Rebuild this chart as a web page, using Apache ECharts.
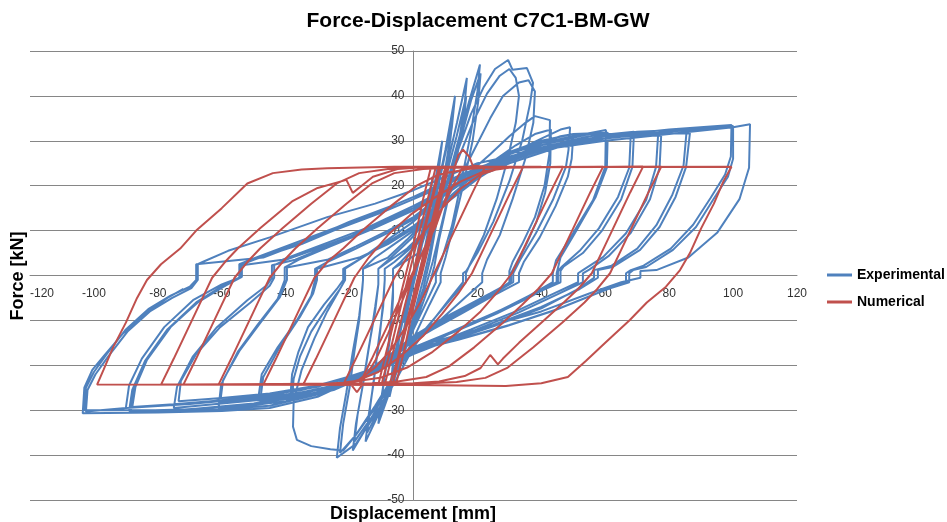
<!DOCTYPE html>
<html><head><meta charset="utf-8">
<script src="https://cdn.jsdelivr.net/npm/echarts@6/dist/echarts.min.js"></script>
<style>html,body{margin:0;padding:0;background:#fff}#c{width:947px;height:522px}</style>
</head><body><div id="c"></div>
<script>
// axis ticks
const xTicks = [-120,-100,-80,-60,-40,-20,0,20,40,60,80,100,120];
const yTicks = [-50,-40,-30,-20,-10,0,10,20,30,40,50];

// Experimental (blue) cycles, [displacement mm, force kN]
const exp1 = [[0,0],[1.5,6],[3,11],[2,7],[0,0],[-1.5,-6],[-3,-10.5],[-2,-6],[0,-1]];
const exp2 = [[2,6],[4,14],[6,22],[5,16],[3,8],[1,1],[-1,-5],[-3,-12],[-5.5,-20],[-4.5,-14],[-2.5,-7],[0,-1]];
const exp3 = [[2,5],[4,11],[6.5,20],[9,30],[8,24],[6,15],[3.5,6],[1.5,-1],[-1,-8],[-4,-16],[-7.5,-27],[-6.5,-20],[-4,-12],[-1.5,-4]];
const exp3b = [[1,3],[3.5,10],[6,18],[8.5,27],[7.5,21],[5.5,13],[3,4],[1,-2],[-1.5,-9],[-4.5,-17],[-7,-24],[-6,-18],[-3.5,-10],[-1,-2]];
const exp4 = [[1,3],[4,10],[7,18],[10,28],[13,40],[12,33],[10,24],[7,13],[5,5],[3,-1],[0,-9],[-3,-17],[-7,-25],[-11,-33],[-10,-27],[-8.5,-20],[-7,-12],[-6.4,-5],[-6.4,-1],[-6.4,1.5]];
const exp4b = [[-3,3],[1.5,5],[4.5,11],[7.5,19],[10.5,29],[12.5,37],[11.5,30],[9.5,21],[7,11],[5,3],[3,-3],[0,-10],[-3.5,-18],[-7.5,-26],[-10.5,-31],[-9.5,-25],[-8,-17],[-7,-9],[-6.4,-3],[-6.4,1.5]];
const exp5 = [[-4,3],[0,6],[4,10],[7,15],[10,23],[13.6,34],[16.7,44],[16,38],[14,29],[11,18],[8,9],[6,3],[4,-2],[1,-9],[-3,-17],[-7,-24],[-11,-31],[-15,-37],[-14,-31],[-12.5,-24],[-11,-15],[-9.5,-7],[-9,-1],[-9,1.5]];
const exp5b = [[-6,3],[-2,5.5],[3,9],[7,15],[10.5,23],[13.5,31],[16.5,40],[15.8,35],[13.5,26],[10.5,16],[8,8],[6.5,2],[5,-2],[2,-8],[-2,-15],[-6,-22],[-10,-29],[-14.5,-35],[-13.5,-29],[-12,-21],[-10.5,-13],[-9.5,-6],[-9,-1],[-9,1.5]];
const exp6 = [[-6,3],[-1,6],[3,9],[7,14],[11,22],[14,30],[17.5,39],[20.8,47],[20,41],[18,32],[15,21],[12,11],[9,4],[7,0.5],[7,-1.5],[4,-6],[0,-12],[-4,-19],[-9,-26],[-14,-33],[-19,-39],[-18,-33],[-16,-25],[-14,-16],[-12,-8],[-11,-2],[-11,1.5]];
const exp6b = [[-7,3.5],[-2,6],[3,9.5],[8,15],[12,23],[15,31],[18,39],[21,45],[20.3,39],[18.5,30],[15.5,20],[12.5,11],[10,4],[8.5,0.5],[8.5,-1.5],[5,-6.5],[1,-12.5],[-3,-18.5],[-8,-25],[-13,-31.5],[-18.5,-37],[-17.5,-31],[-15.5,-23],[-13.5,-14],[-12,-7],[-11,-2],[-11,1.5]];
const exp7 = [[-7,4],[-1,8],[5,13],[10,20],[14,28],[18,36],[22,42],[25.5,46],[29.6,48],[31,45.8],[35.5,46.2],[37.4,42.9],[36.5,38.4],[34,30],[30,21],[25,12],[20,5],[16.5,1],[15.5,0.5],[15.5,-1.5],[11,-5.5],[5,-11],[0,-16],[-6,-24],[-12,-31],[-18,-37.5],[-24,-40.6],[-23,-34],[-21,-26],[-19,-17],[-17,-9],[-16,-3],[-15.8,-1],[-15.8,1.5]];
const exp7b = [[-8,4],[-2,8],[4,12.5],[9,18.5],[14,26],[18.5,34],[23,40.5],[27,44.5],[30,46],[32,44],[33,40],[32,34],[29.5,26],[26,17],[22,9],[18,3],[16.4,0.5],[16.4,-1.5],[12,-5],[6,-10],[0,-15],[-6,-22.5],[-12,-29.5],[-18,-35.5],[-23,-39.5],[-22,-33],[-20,-25],[-18.5,-17],[-17,-10],[-16.2,-4],[-15.8,-1],[-15.8,1.5]];
const exp8 = [[-12,4],[-5,7.5],[2,11],[8,15],[14,21],[19,28],[24,35],[28,40],[33,43],[36,43.5],[38,41],[37.5,34],[35,26],[31,17],[27,9],[23,3.5],[21.5,0.5],[21.5,-1.5],[16,-5],[9,-9.5],[2,-14],[-5,-21],[-12,-29],[-18,-35.5],[-22,-39],[-26,-38.7],[-32,-38],[-36.5,-36.6],[-37.7,-33.7],[-37.5,-28],[-35,-21],[-31,-14],[-27,-8],[-23,-3],[-21.4,-1],[-21.4,1.5]];
const exp9 = [[-15,4.5],[-8,8],[0,12],[8,17],[16,22],[24,27],[30,31],[35,34],[38,35.5],[42.7,34.6],[42.5,27],[41,20],[38,13],[34,7],[31,3],[30,1],[30,-1.5],[24,-4.5],[16,-7.5],[8,-10.5],[0,-14],[-8,-18.5],[-16,-22.5],[-25,-25],[-32,-26.5],[-38,-27.5],[-37.5,-23],[-35.5,-18],[-32,-12.5],[-27,-7],[-23,-3],[-21.4,-1],[-21.4,1.5]];
const exp9b = [[-16,4],[-9,7],[0,10.5],[8,15.5],[16,20.5],[24,25],[32,29],[38,31.5],[43,32.5],[42.8,25],[41.2,18.5],[38.5,12],[35,6.5],[32,2.5],[30.5,0.5],[30.5,-1.5],[24,-4],[16,-7],[8,-10],[0,-13.5],[-8,-18],[-16,-22],[-25,-24.5],[-32,-25.8],[-38.5,-26.8],[-38,-22],[-36,-17],[-33,-11.5],[-28,-6.5],[-24,-3],[-22,-1],[-22,1.5]];
const exp10 = [[-16,4],[-8,7.5],[0,11],[10,16.5],[20,22],[30,27],[40,30.5],[46,32.5],[49,33],[48.5,28],[47.7,24.2],[43.6,16.8],[38.3,9.4],[33.3,3.4],[31.2,0.5],[31.2,-1.5],[24,-4.5],[15,-8],[6,-11.5],[0,-14],[-10,-20],[-20,-24],[-30,-26.5],[-40,-27.5],[-48,-28],[-47,-22.6],[-41.8,-15.9],[-35.5,-9.2],[-31.4,-4],[-30.2,-1],[-30.2,1.5]];
const exp10b = [[-17,4],[-8,7],[0,10.5],[10,16],[20,21.5],[30,26],[40,29.5],[46,31],[50,31.5],[49.5,26],[48.3,22],[44.5,15.5],[39.5,8.5],[34.5,3],[33,0.5],[33,-1.5],[25,-4.5],[15,-8.5],[6,-12],[0,-14.5],[-10,-20.5],[-20,-23.5],[-30,-25.5],[-40,-26.5],[-48.5,-27],[-47.5,-22],[-42.5,-16],[-36.5,-10],[-32,-4.5],[-30.8,-1],[-30.8,1.5]];
const exp11 = [[-27,3],[-18,6],[-8,9.5],[0,12.5],[10,18],[20,23],[30,27],[40,29.5],[50,31],[60.2,32.4],[60,24.2],[56.2,16.8],[49.9,9.4],[44.6,3.4],[43.6,0.5],[43.6,-1.5],[35,-5],[25,-8.5],[12,-12.5],[0,-16],[-12,-21],[-25,-24.5],[-40,-26.8],[-52,-27.8],[-60.5,-28.4],[-59.6,-23.3],[-54.3,-16.6],[-48,-10.6],[-41.8,-4.8],[-39.6,-1],[-39.6,1.8]];
const exp11b = [[-27,3.5],[-18,6.5],[-8,10],[0,13],[10,18.5],[20,23.5],[30,27.5],[40,30],[50,31.5],[60.8,31.8],[60.5,24],[57,17.5],[51,10],[46,4],[44.8,0.5],[44.8,-1.5],[36,-5],[26,-8.5],[13,-12.5],[0,-16.2],[-12,-21.5],[-25,-25.5],[-40,-28],[-52,-29],[-61,-29.5],[-60.2,-24.3],[-55,-17],[-48.8,-11],[-42.5,-5.2],[-40.3,-1],[-40.3,1.8]];
const exp12 = [[-36,3.5],[-26,6.5],[-14,10],[0,14.5],[12,19.5],[25,24.5],[40,28.5],[55,31],[69,32],[68.5,24.2],[65,17],[59,10],[53,5],[47,2],[46,1],[46,-1.5],[38,-4],[28,-7.5],[15,-11.5],[0,-16.5],[-15,-22],[-30,-25.5],[-45,-27.5],[-60,-28.5],[-75,-29.5],[-74,-24.8],[-69,-18],[-61.5,-11.5],[-52,-5.5],[-45.8,-2.1],[-44.3,-0.5],[-44.3,2.3]];
const exp12b = [[-37,3.5],[-27,6.5],[-14,10.5],[0,15],[12,20],[25,25],[40,29],[55,31.5],[68,31.5],[67.5,24],[64,17.5],[58,10.5],[52,5.5],[46.5,2],[45.2,1],[45.2,-1.5],[37,-4.2],[27,-7.8],[14,-12],[0,-17],[-15,-21.5],[-30,-24.5],[-45,-26.3],[-60,-27.3],[-73.5,-28],[-72.8,-23.5],[-68,-17.5],[-60.5,-11.5],[-51,-6],[-45,-2.3],[-43.6,-0.5],[-43.6,2.3]];
const exp13 = [[-40,3.5],[-30,6],[-15,10],[0,15],[15,20.5],[30,25],[45,28.5],[60,30.5],[76.6,32],[75.9,24.2],[72.8,16.8],[66.5,9.4],[59.3,4.1],[53,1.2],[51.5,0.5],[51.5,-1.5],[44,-4],[32,-8],[18,-12],[0,-17],[-18,-22.5],[-35,-25.5],[-55,-27.5],[-75,-28.7],[-88,-29.3],[-87,-24.8],[-83.4,-18.8],[-76,-11.5],[-66.8,-5.5],[-58.4,-2.1],[-53.7,-0.3],[-53.7,2.3]];
const exp13b = [[-41,3.5],[-30,6.5],[-15,10.5],[0,15.5],[15,21],[30,25.5],[45,29],[60,31],[77.5,31.2],[77,24],[74,17],[68,9.5],[61,4.3],[55,1.3],[53,0.5],[53,-1.5],[45,-4.2],[33,-8.2],[18,-12.5],[0,-17.5],[-18,-23.5],[-35,-27],[-55,-29],[-75,-30],[-88.5,-30.3],[-87.5,-25.5],[-84,-19],[-77,-12],[-67.5,-6],[-59,-2.3],[-54.2,-0.3],[-54.2,2.3]];
const exp14 = [[-50,3.5],[-40,6],[-25,10],[-10,14],[0,17],[15,22],[30,26],[50,29.5],[70,31.5],[86.5,31.7],[85.3,24.2],[82,17.5],[77,10.8],[70.9,5.7],[62.4,1.9],[57.7,1.2],[57.7,-0.5],[52,-3],[40,-7],[25,-11],[10,-14.5],[0,-17],[-15,-21.5],[-30,-24.5],[-50,-27],[-70,-28.5],[-90,-29.5],[-89,-24.5],[-85,-18.5],[-78,-11.5],[-69,-5.5],[-60,-2],[-54.5,-0.5],[-54.5,2.5]];
const exp14b = [[-50,3.8],[-40,6.5],[-25,10.5],[-10,14.5],[0,17.5],[15,22.5],[30,26.5],[50,30],[70,32],[85.5,32.5],[84.5,24.5],[81,18],[76,11.2],[70,6],[62,2.2],[56.5,1.2],[56.5,-0.5],[51,-3.2],[40,-7.3],[25,-11.3],[10,-14.8],[0,-17.3],[-15,-22.5],[-30,-26],[-50,-28.5],[-70,-29.8],[-89,-30.2],[-88,-25.5],[-84,-19],[-77,-12],[-68,-6],[-59.5,-2.2],[-54.5,-0.5],[-54.5,2.5]];
const exp15 = [[-48,4],[-35,7],[-20,11.5],[-5,15.5],[5,18.5],[20,23.5],[40,28],[60,30.5],[80,32],[100,33.3],[100,26],[98.4,22],[93.7,16.8],[88.4,10.8],[81.2,5.7],[72.8,1.9],[68.7,1.2],[67.5,0.5],[67.5,-1.5],[60,-3.2],[45,-7.5],[30,-11],[15,-14],[0,-16.5],[-15,-21.5],[-30,-26.5],[-45,-29],[-60,-29.8],[-80,-30],[-103,-30],[-102.5,-25],[-100,-21.5],[-96,-17.5],[-90,-12],[-83,-7.5],[-76,-4.5],[-70,-2.5],[-68,-1],[-68,2.5]];
const exp15b = [[-47,4],[-35,7.3],[-20,12],[-5,16],[5,19],[20,24],[40,28.5],[60,31],[80,32.5],[99.5,33.5],[99.3,26.5],[97.5,22.5],[93,17.3],[87.5,11.3],[80.5,6],[72,2.2],[68,1.2],[66.5,0.5],[66.5,-1.5],[59,-3.5],[44,-7.8],[29,-11.3],[14,-14.3],[0,-16.8],[-15,-21.3],[-30,-24.8],[-50,-27.3],[-70,-28.6],[-90,-29.5],[-102.5,-30.3],[-102,-25.5],[-99.5,-22],[-95.5,-18],[-89.5,-12.5],[-82.5,-8],[-75.5,-5],[-69.5,-2.8],[-67.5,-1],[-67.5,2.5]];
const exp16 = [[-66,3],[-58,5.5],[-45,8.5],[-27,13],[-12,16],[0,19],[10,22],[20,25],[40,28],[60,30],[80,31.5],[100,33],[105.3,33.7],[105,24],[102,17],[95,9.5],[86,4],[76,1.2],[71,1],[71,-0.5],[65,-1.5],[55,-4],[40,-8],[20,-12],[0,-16],[-15,-22],[-30,-27],[-45,-29.5],[-60,-30.2],[-80,-30.5],[-103.5,-30.7],[-103,-25],[-100.5,-21],[-97,-18],[-91,-13],[-84,-8.5],[-77,-5],[-72,-3]];

// Numerical (red) cycles
const num1 = [[0,0],[4,11.5],[8.5,24.2],[10,24.3],[7.5,17],[4,7],[1,-1.5],[-2,-10],[-5.5,-20],[-7.5,-24.3],[-10,-24.3],[-7,-16],[-4,-7],[-1,1.5],[2,10],[5.5,20],[7,24.2]];
const num1b = [[11,24.2],[8.5,17],[5.5,8.5],[2.5,0],[-0.5,-8.5],[-3,-17],[-5.5,-24.3],[-11,-24.3],[-8.5,-17],[-5.5,-8.5],[-2.5,0],[0.5,8.5],[3,17],[5.5,24.2]];
const num1c = [[10.5,24.2],[7.5,16],[4.5,7.5],[1.5,-1],[-1.5,-9.5],[-4.5,-18],[-6.5,-24.3],[-9,-24.3],[-6,-16],[-3,-7.5],[0,1],[3,9.5],[6,18],[8,24.2]];
const num2 = [[15.5,24.2],[12,19.5],[8,13.5],[4,7],[0,0.5],[-4,-6.5],[-8,-13],[-12,-19],[-15,-22.5],[-17,-24.3]];
const num3 = [[-13,-18.5],[-9,-12.5],[-5,-6.5],[-1,-0.5],[3,5.5],[7,11],[10,17],[12,22],[14,26.8],[15.5,28],[17.5,26.4],[18.5,24.5],[22.4,24.2],[18.5,18.5],[14.5,12.5],[10.5,6.5],[6.5,0.5],[2.5,-5.5],[-2,-11],[-7,-16.5],[-12,-20.5],[-17,-23.2],[-22,-24.3]];
const num4 = [[-18,-18.5],[-14,-12.5],[-10,-6.5],[-6,-0.5],[-2,4],[3,9.5],[9,15],[15,19.5],[21,22.5],[27,23.9],[34.3,24.2],[30.3,18.5],[26.3,12.5],[22.3,6.5],[18.3,0.5],[14,-4],[9,-8.5],[3,-13.5],[-4,-18],[-11,-21.5],[-18,-23.5],[-26,-24.2],[-34.5,-24.3]];
const num5 = [[-30.5,-18.5],[-26.5,-12.5],[-22.5,-6.5],[-18.5,-0.5],[-14,4],[-8,9],[-1,13.5],[7,17.5],[15,21],[22,23.2],[30,24],[46.8,24.2],[42.8,18.5],[38.8,12.5],[34.8,6.5],[30.8,0.5],[26.5,-3.5],[21,-8],[14,-12.5],[6,-17],[-2,-20.5],[-10,-22.7],[-20,-23.8],[-30,-24.2],[-47,-24.3]];
const num6 = [[-43,-18.5],[-39,-12.5],[-35,-6.5],[-31,-0.5],[-27,3],[-22,6],[-16,10],[-7,15.5],[1,20],[8,22.5],[17,23.7],[25,24.1],[59.3,24.2],[55.3,18.5],[51.3,12.5],[47.3,6.5],[43.3,0.5],[39,-3],[34,-6.5],[28,-10.5],[19,-16],[11,-20.3],[4,-22.6],[-5,-23.6],[-13,-24],[-61,-24.3]];
const num7 = [[-57,-18.5],[-53,-12.5],[-49,-6.5],[-45,-0.5],[-41,3],[-37,6],[-30,10.5],[-21,16],[-13,20.5],[-6,22.8],[3,23.7],[11,24],[71.8,24.2],[67.8,18.5],[63.8,12.5],[59.8,6.5],[55.8,0.5],[51.5,-3],[47,-6],[40,-10.5],[33,-15],[28,-18.5],[26.4,-19.8],[24,-17.7],[21,-20.6],[16,-22.4],[8,-23.6],[0,-24],[-72,-24.3]];
const num8 = [[-68,-18.5],[-64,-12.5],[-60,-6.5],[-56,-0.5],[-52,3],[-48,6],[-41,10.5],[-32,16],[-24,20.5],[-17,22.8],[-8,23.7],[0,24],[77.5,24.2],[73.5,18.5],[69.5,12.5],[65.5,6.5],[61.5,0.5],[57.5,-3],[53.5,-6],[46.5,-10.5],[37.5,-16],[29.5,-20.5],[22.5,-22.8],[13.5,-23.7],[5,-24],[-16,-24.3],[-17.7,-26],[-19.5,-24.3],[-79,-24.3]];
const num9 = [[-75,-18.5],[-71,-12.5],[-67,-6.5],[-63,-0.5],[-59,3],[-55,6],[-48,10.5],[-38,16.5],[-30,19.5],[-21,21.3],[-19,18.4],[-16.7,19.7],[-12.7,22],[-5,23.7],[3,24.1],[99.5,24.2],[97,21],[94,16],[90,10.5],[86.5,5],[83.4,1.2],[79,-2.5],[73,-6],[67.7,-9.9],[60,-15],[54,-19],[48.3,-22.6],[40,-24],[28.9,-24.6],[15,-24.5],[0,-24.4],[-99,-24.3]];
const num10 = [[-97,-21],[-94,-16],[-90,-10.5],[-86.5,-5],[-83.4,-1],[-79,2.5],[-73,6],[-68,10],[-60,15],[-52,20.5],[-44,22.8],[-35,23.6],[-27,23.9],[-6,24.2],[40,24.2]];

const expData = [].concat(exp1,exp2,exp3,exp3b,exp4,exp4b,exp5,exp5b,exp6,exp6b,exp7,exp7b,exp8,exp9,exp9b,exp10,exp10b,exp11,exp11b,exp12,exp12b,exp13,exp13b,exp14,exp14b,exp15,exp15b,exp16);
const numData = [].concat(num1,num1b,num1c,num2,num3,num4,num5,num6,num7,num8,num9,num10);

const FONT = '"Liberation Sans", Arial, sans-serif';
const GRID = {left: 30, right: 150, top: 51, bottom: 22};
// pixel offsets so that each axis (line, ticks, labels) sits on the other axis' zero
const yAxisShift = -((947 - GRID.left - GRID.right) / 2);
const xAxisShift = -((522 - GRID.top - GRID.bottom) / 2);

const chart = echarts.init(document.getElementById('c'));
chart.setOption({
  animation: false,
  backgroundColor: '#fff',
  grid: GRID,
  xAxis: {
    type: 'value', position: 'bottom', offset: xAxisShift,
    min: xTicks[0], max: xTicks[xTicks.length-1], interval: xTicks[1]-xTicks[0],
    axisLine: {show: true, onZero: false, lineStyle: {color: '#868686', width: 1}},
    axisTick: {show: false},
    splitLine: {show: false},
    axisLabel: {color: '#333', fontSize: 12, fontFamily: FONT, margin: 12, alignMinLabel: 'left'}
  },
  yAxis: {
    type: 'value', position: 'left', offset: yAxisShift,
    min: yTicks[0], max: yTicks[yTicks.length-1], interval: yTicks[1]-yTicks[0],
    axisLine: {show: true, onZero: false, lineStyle: {color: '#868686', width: 1}},
    axisTick: {show: true, length: 4, lineStyle: {color: '#868686'}},
    splitLine: {show: true, lineStyle: {color: '#868686', width: 1}},
    axisLabel: {color: '#333', fontSize: 12, fontFamily: FONT, margin: 9}
  },
  legend: {
    data: ['Experimental', 'Numerical'], orient: 'vertical', left: 822, top: 262,
    icon: 'rect', itemWidth: 25, itemHeight: 3, itemGap: 11,
    textStyle: {fontFamily: FONT, fontSize: 14, fontWeight: 'bold', color: '#000', lineHeight: 16}
  },
  series: [
    {name: 'Experimental', type: 'line', data: expData, symbol: 'none', showSymbol: false,
     lineStyle: {color: '#4f81bd', width: 2}, itemStyle: {color: '#4f81bd'}, z: 2},
    {name: 'Numerical', type: 'line', data: numData, symbol: 'none', showSymbol: false,
     lineStyle: {color: '#c0504d', width: 2}, itemStyle: {color: '#c0504d'}, z: 3}
  ],
  graphic: [
    {type: 'text', x: 478, y: 21, style: {text: 'Force-Displacement C7C1-BM-GW', font: 'bold 21px ' + FONT, fill: '#000', textAlign: 'center', textVerticalAlign: 'middle'}},
    {type: 'text', x: 18, y: 276, rotation: Math.PI/2, style: {text: 'Force [kN]', font: 'bold 18px ' + FONT, fill: '#000', textAlign: 'center', textVerticalAlign: 'middle'}},
    {type: 'text', x: 413, y: 514, style: {text: 'Displacement [mm]', font: 'bold 18px ' + FONT, fill: '#000', textAlign: 'center', textVerticalAlign: 'middle'}}
  ]
});
</script></body></html>
